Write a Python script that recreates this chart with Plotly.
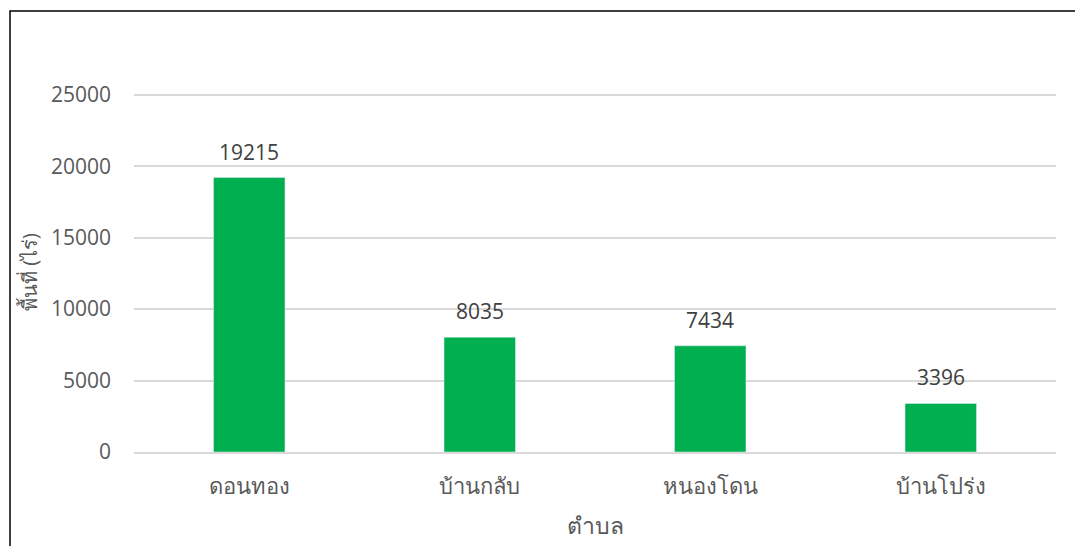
import plotly.graph_objects as go

categories = ["ดอนทอง", "บ้านกลับ", "หนองโดน", "บ้านโปร่ง"]
values = [19215, 8035, 7434, 3396]
y_ticks = [0, 5000, 10000, 15000, 20000, 25000]

# page body has an 8px offset; coordinates below are relative to the figure
OFF = 8
W, H = 1083 - OFF, 546 - OFF
L, R = 134 - OFF, 1056 - OFF
T, B = 52 - OFF, 452 - OFF
y_max = 28000

fig = go.Figure(go.Bar(
    x=categories, y=values,
    marker_color="#00B050",
    width=0.31,
    cliponaxis=False,
))

for c, v in zip(categories, values):
    fig.add_annotation(
        x=c, y=v, text=str(v), showarrow=False,
        yanchor="bottom", yshift=10,
        font=dict(size=21, color="#404040"),
    )

pw, ph = R - L, B - T

# y-axis title placed as rotated annotation
fig.add_annotation(
    xref="paper", yref="paper",
    x=(29 - OFF - L) / pw, y=(B - (272 - OFF)) / ph,
    text="พื้นที่ (ไร่)", textangle=-90, showarrow=False,
    xanchor="center", yanchor="middle",
    font=dict(size=20, color="#595959"),
)

fig.update_layout(
    width=W, height=H,
    margin=dict(l=L, r=W - R, t=T, b=H - B, pad=0, autoexpand=False),
    paper_bgcolor="white", plot_bgcolor="white",
    font=dict(family="Open Sans, Noto Sans, sans-serif", color="#595959", size=21),
    showlegend=False,
    xaxis=dict(
        title=dict(text="ตำบล", font=dict(size=23, color="#595959"), standoff=19),
        automargin=False,
        showline=True, linecolor="#D9D9D9", linewidth=1.5,
        tickfont=dict(size=22, color="#595959"),
        ticks="", ticklabelstandoff=14,
    ),
    yaxis=dict(
        automargin=False,
        range=[0, y_max], tickvals=y_ticks, tickformat="d",
        showgrid=True, gridcolor="#D9D9D9", gridwidth=1.5,
        zeroline=False,
        tickfont=dict(size=21, color="#595959"),
        ticks="", ticklabelstandoff=22,
    ),
)

fig.add_shape(
    type="rect", xref="paper", yref="paper",
    x0=(10 - OFF - L) / pw, x1=(W + 20 - L) / pw,
    y0=(B - (H + 20)) / ph, y1=(B - (11 - OFF)) / ph,
    line=dict(color="black", width=1.5), fillcolor="rgba(0,0,0,0)",
    layer="below",
)

fig.write_html("out.html")
